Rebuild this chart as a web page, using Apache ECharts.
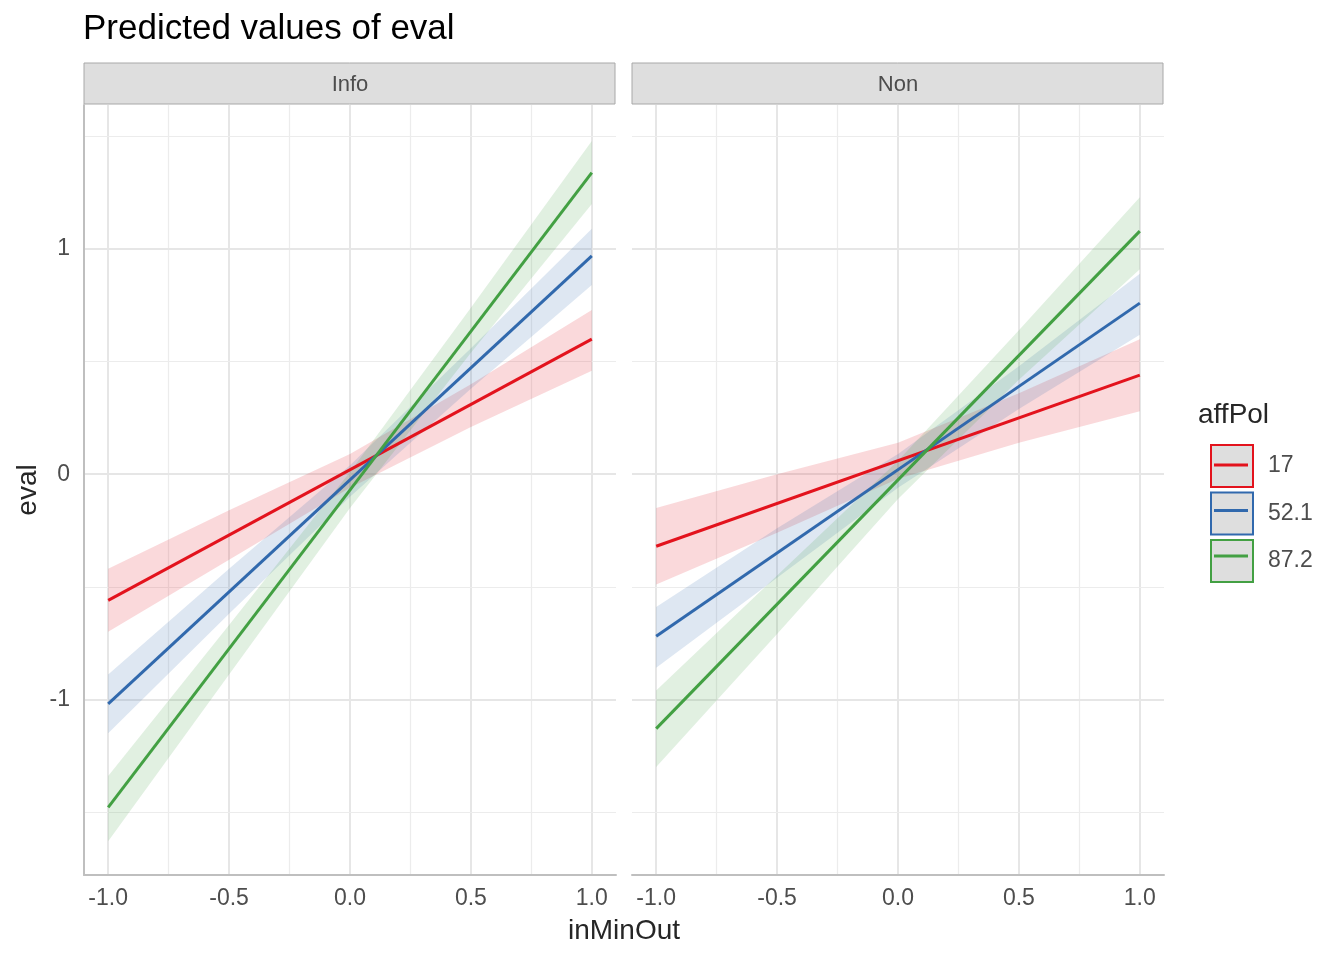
<!DOCTYPE html>
<html>
<head>
<meta charset="utf-8">
<title>Predicted values of eval</title>
<script src="https://cdn.jsdelivr.net/npm/echarts/dist/echarts.min.js"></script>
<style>
  html, body { margin: 0; padding: 0; background: #ffffff; }
  #chart { width: 1344px; height: 960px; }
</style>
</head>
<body>
<div id="chart"></div>
<script>
// 面板与分组
const panels = ['Info', 'Non'];
const groups = ['17', '52.1', '87.2'];

// 预测直线（x = -1 与 x = 1 处的读数）
const xEnds = [-1, 1];
const info17Fit = [-0.56, 0.60];
const info521Fit = [-1.02, 0.97];
const info872Fit = [-1.48, 1.34];
const non17Fit = [-0.32, 0.44];
const non521Fit = [-0.72, 0.76];
const non872Fit = [-1.13, 1.08];

// 置信带（下限 / 上限）
const xBand = [-1, -0.5, 0, 0.5, 1];
const info17Lo = [-0.70, -0.38, -0.06, 0.21, 0.46];
const info17Hi = [-0.42, -0.16, 0.09, 0.40, 0.73];
const info521Lo = [-1.15, -0.62, -0.10, 0.38, 0.84];
const info521Hi = [-0.89, -0.42, 0.04, 0.56, 1.09];
const info872Lo = [-1.63, -0.89, -0.15, 0.54, 1.20];
const info872Hi = [-1.34, -0.67, 0.01, 0.74, 1.48];
const non17Lo = [-0.49, -0.26, -0.02, 0.14, 0.28];
const non17Hi = [-0.15, 0.00, 0.14, 0.36, 0.60];
const non521Lo = [-0.86, -0.46, -0.06, 0.29, 0.62];
const non521Hi = [-0.59, -0.24, 0.09, 0.48, 0.89];
const non872Lo = [-1.30, -0.71, -0.11, 0.42, 0.91];
const non872Hi = [-0.96, -0.45, 0.06, 0.64, 1.23];

// 刻度
const xTicks = [-1, -0.5, 0, 0.5, 1];
const xMinor = [-0.75, -0.25, 0.25, 0.75];
const yTicks = [-1, 0, 1];
const yMinor = [-1.5, -0.5, 0.5, 1.5];

const colors = ['#e3131d', '#3169ad', '#43a043'];
const FONT = '"Liberation Sans", Arial, Helvetica, sans-serif';
const panelLeft = [84, 632];
const panelWidth = 532;
const panelTop = 105;
const panelHeight = 770;

const fits = [[info17Fit, info521Fit, info872Fit], [non17Fit, non521Fit, non872Fit]];
const bands = [
  [[info17Lo, info17Hi], [info521Lo, info521Hi], [info872Lo, info872Hi]],
  [[non17Lo, non17Hi], [non521Lo, non521Hi], [non872Lo, non872Hi]]
];

/**
 * 置信带：整条带画成一个多边形
 */
function bandSeries(p, lo, hi, color) {
  return {
    type: 'custom',
    xAxisIndex: p,
    yAxisIndex: p,
    silent: true,
    z: 2,
    clip: true,
    data: xBand.map((x, i) => [x, lo[i], hi[i]]),
    encode: { x: 0, y: [1, 2] },
    renderItem: function (params, api) {
      if (params.dataIndex !== 0) return null;
      const pts = [];
      for (let i = 0; i < xBand.length; i++) pts.push(api.coord([xBand[i], lo[i]]));
      for (let i = xBand.length - 1; i >= 0; i--) pts.push(api.coord([xBand[i], hi[i]]));
      return {
        type: 'polygon',
        shape: { points: pts },
        style: { fill: color, opacity: 0.16 }
      };
    }
  };
}

/**
 * 网格线（主/次），放在最底层
 */
function gridSeries(p) {
  const major = { color: '#e6e6e6', width: 2, type: 'solid' };
  const minor = { color: '#ececec', width: 1.2, type: 'solid' };
  const data = [];
  xTicks.forEach(v => data.push({ xAxis: v, lineStyle: major }));
  xMinor.forEach(v => data.push({ xAxis: v, lineStyle: minor }));
  yTicks.forEach(v => data.push({ yAxis: v, lineStyle: major }));
  yMinor.forEach(v => data.push({ yAxis: v, lineStyle: minor }));
  return {
    type: 'line',
    xAxisIndex: p,
    yAxisIndex: p,
    silent: true,
    z: 0,
    data: [[-1.1, -1.78]],
    showSymbol: false,
    lineStyle: { opacity: 0 },
    markLine: {
      z: 0,
      silent: true,
      animation: false,
      symbol: ['none', 'none'],
      label: { show: false },
      emphasis: { disabled: true },
      lineStyle: { type: 'solid' },
      data: data
    }
  };
}

const series = [];
const grids = [];
const xAxes = [];
const yAxes = [];
const graphics = [];

panels.forEach((name, p) => {
  grids.push({ left: panelLeft[p], top: panelTop, width: panelWidth, height: panelHeight });
  xAxes.push({
    type: 'value',
    gridIndex: p,
    min: -1.1,
    max: 1.1,
    z: 5,
    axisLine: { show: true, onZero: false, lineStyle: { color: '#bfbfbf', width: 2 } },
    axisTick: { show: false },
    splitLine: { show: false },
    axisLabel: {
      customValues: xTicks,
      formatter: v => Number(v).toFixed(1),
      fontSize: 23,
      fontFamily: FONT,
      color: '#4d4d4d',
      margin: 12
    }
  });
  yAxes.push({
    type: 'value',
    gridIndex: p,
    min: -1.78,
    max: 1.64,
    z: 5,
    axisLine: { show: p === 0, onZero: false, lineStyle: { color: '#bfbfbf', width: 2 } },
    axisTick: { show: false },
    splitLine: { show: false },
    axisLabel: {
      show: p === 0,
      customValues: yTicks,
      formatter: v => String(v),
      fontSize: 23,
      fontFamily: FONT,
      color: '#4d4d4d',
      margin: 14
    }
  });
  series.push(gridSeries(p));
  groups.forEach((g, k) => {
    series.push(bandSeries(p, bands[p][k][0], bands[p][k][1], colors[k]));
  });
  groups.forEach((g, k) => {
    series.push({
      type: 'line',
      name: g,
      xAxisIndex: p,
      yAxisIndex: p,
      z: 3,
      showSymbol: false,
      silent: true,
      color: colors[k],
      lineStyle: { color: colors[k], width: 3 },
      data: xEnds.map((x, i) => [x, fits[p][k][i]])
    });
  });
  // 分面标题条
  graphics.push({
    type: 'rect',
    shape: { x: panelLeft[p], y: 63, width: panelWidth - 1, height: 41 },
    style: { fill: '#dedede', stroke: '#a8a8a8', lineWidth: 1 }
  });
  graphics.push({
    type: 'text',
    x: panelLeft[p] + panelWidth / 2,
    y: 85,
    style: { text: name, font: '22px ' + FONT, fill: '#4d4d4d', align: 'center', verticalAlign: 'middle' }
  });
});

// 坐标轴标题
graphics.push({
  type: 'text',
  x: 624,
  y: 931,
  style: { text: 'inMinOut', font: '28px ' + FONT, fill: '#262626', align: 'center', verticalAlign: 'middle' }
});
graphics.push({
  type: 'text',
  x: 28,
  y: 490,
  rotation: Math.PI / 2,
  style: { text: 'eval', font: '28px ' + FONT, fill: '#262626', align: 'center', verticalAlign: 'middle' }
});

// 图例
const legendLeft = 1210;
const legendTop = 444;
const keySize = 42;
const keyGap = 3.5;
graphics.push({
  type: 'text',
  x: 1198,
  y: 415,
  style: { text: 'affPol', font: '28px ' + FONT, fill: '#262626', align: 'left', verticalAlign: 'middle' }
});
groups.forEach((g, k) => {
  const cy = legendTop + keySize / 2 + k * (keySize + keyGap);
  graphics.push({
    type: 'line',
    z: 100,
    shape: { x1: legendLeft + 4, y1: cy, x2: legendLeft + keySize - 4, y2: cy },
    style: { stroke: colors[k], lineWidth: 3 }
  });
});

const chart = echarts.init(document.getElementById('chart'));
chart.setOption({
  animation: false,
  backgroundColor: '#ffffff',
  title: {
    text: 'Predicted values of eval',
    left: 83,
    top: 12,
    padding: 0,
    textStyle: { fontSize: 35, fontWeight: 'normal', color: '#000000', fontFamily: FONT }
  },
  legend: {
    orient: 'vertical',
    left: legendLeft,
    top: legendTop,
    padding: 0,
    itemWidth: keySize,
    itemHeight: keySize,
    itemGap: keyGap,
    icon: 'rect',
    selectedMode: false,
    data: groups.map((g, k) => ({
      name: g,
      itemStyle: { color: '#dedede', borderColor: colors[k], borderWidth: 2 }
    })),
    textStyle: { fontSize: 23, color: '#4d4d4d', fontFamily: FONT, padding: [0, 0, 0, 10] }
  },
  grid: grids,
  xAxis: xAxes,
  yAxis: yAxes,
  graphic: graphics,
  series: series
});
</script>
</body>
</html>
